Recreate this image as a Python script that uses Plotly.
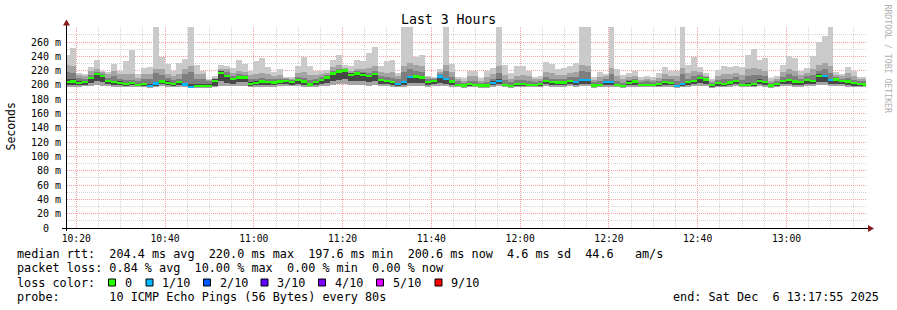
import pandas as pd
import plotly.graph_objects as go

# ---------------- data (ms), one value per 80 s step ----------------
p_max = [242.4, 251.7, 216.8, 215.4, 225.7, 235.0, 220.1, 217.7, 229.4, 220.1, 233.1, 249.0, 215.4, 223.8,
         224.7, 300, 239.6, 229.4, 220.1, 230.3, 236.4, 300, 228.0, 220.1, 208.5, 212.0, 228.0, 227.0,
         223.8, 235.0, 229.4, 220.1, 234.0, 237.8, 225.7, 217.7, 222.4, 211.7, 210.7, 226.6, 239.2, 226.6,
         220.1, 220.1, 221.0, 235.0, 242.0, 228.5, 226.6, 235.4, 234.0, 244.8, 253.6, 227.0, 234.0,
         235.0, 216.3, 300, 300, 239.6, 242.4, 213.1, 211.7, 222.4, 300, 229.4, 210.7, 209.8, 220.1,
         220.1, 209.3, 220.1, 223.8, 300, 228.5, 216.3, 226.6, 226.6, 220.1, 210.7, 213.1, 232.6,
         229.4, 222.4, 223.3, 227.0, 230.3, 300, 300, 210.7, 217.7, 215.4, 300, 221.9, 214.5, 216.3,
         220.1, 210.7, 213.1, 210.7, 216.3, 225.7, 220.1, 220.1, 300, 228.5, 239.6, 225.7, 216.3,
         208.4, 221.0, 226.6, 224.7, 226.6, 224.7, 242.0, 250.4, 235.0, 237.8, 209.8, 213.1, 228.5, 240.6,
         237.3, 220.1, 223.8, 240.6, 259.7, 269.0, 300, 217.7, 215.4, 225.7, 220.1, 210.7, 210.7]

p_upper = [228, 227, 214, 213, 220, 222, 218, 215, 220, 215, 215, 215, 210, 215, 215, 222, 222, 215, 213, 215,
           222, 226, 215, 215, 207, 210, 222, 222,
           216, 220, 218, 214, 215, 216, 215, 212, 214, 210, 209, 216, 218, 214, 214, 215, 217, 225, 228, 224,
           220, 222, 222, 223, 226, 218, 217,
           218, 212, 226, 230, 228, 226, 211, 210, 218, 228, 218, 208, 206, 212, 212, 206, 211, 215, 226, 214,
           209, 213, 214, 212, 208, 209, 218,
           216, 214, 214, 217, 218, 228, 226, 207, 211, 212, 224, 213, 208, 211, 213, 207, 209, 207, 210, 215,
           213, 212, 224, 216, 220, 218, 213,
           206, 213, 215, 215, 217, 214, 222, 224, 222, 220, 206, 209, 218, 222, 220, 214, 217, 222, 228, 230,
           226, 214, 212, 216, 213, 208, 208]

p_mid = [218, 216, 210, 209, 214, 218, 215, 210, 212, 209, 207, 207, 205, 208, 208, 217, 214, 210, 207, 209,
         215, 218, 209, 208, 205, 209, 220, 218,
         212, 215, 214, 208, 209, 210, 209, 208, 209, 208, 207, 211, 210, 207, 209, 211, 214, 220, 222, 222,
         217, 219, 218, 217, 220, 212, 211,
         210, 208, 218, 222, 220, 218, 208, 208.5, 215, 220, 211, 205, 203, 206, 205, 203, 204, 208, 217, 207,
         204, 207, 207, 205, 204, 205, 211,
         209, 208, 208, 211, 211, 220, 218, 204, 205, 208, 215, 206, 203, 207, 209, 204, 205, 204, 206, 209,
         208, 206, 215, 209, 212, 214, 211,
         203, 207, 208, 209, 211, 207, 212, 214, 214, 212, 203, 205, 211, 215, 212, 209, 212, 214, 220, 222,
         216, 211, 209, 210, 207, 205, 205]

p_dark_hi = [209, 209, 206, 205.5, 211, 216.5, 214, 207, 206, 205, 203, 204, 202, 203, 201, 204, 207, 205, 203,
             206, 203, 201, 201, 201, 201, 208.5, 219, 214,
             210, 212, 212, 204, 205, 206.5, 205.5, 205, 206.5, 207, 205.5, 208.5, 206.5, 203, 205.5, 209, 212,
             218, 220.5, 221.5, 216, 218, 216, 214, 217, 208.5, 207.5,
             206, 203, 206, 213, 214, 212, 206, 207.5, 213.5, 210, 207, 202, 201, 203, 202, 201, 201, 205, 208,
             202, 200.5, 203, 203, 202, 202, 203, 207.5,
             205.5, 205, 205, 207.5, 206, 209, 209, 201, 202, 205.5, 206, 202, 200.5, 205, 206.5, 202, 202, 202,
             203, 205.5, 204.5, 200.5, 203, 205.5, 207.5, 211, 209.5,
             201.5, 204, 203, 205, 207.5, 202, 202.5, 203, 208, 206, 201, 203, 207, 209, 206.5, 205.5, 209, 207,
             215, 214, 208.5, 209.5, 207.5, 206.5, 204, 203, 202.5]

median = [204.2, 204.7, 202.8, 203.7, 209.3, 214.9, 212.6, 205.6, 203.7, 202.8, 201.4, 202.8, 200.0, 201.0,
          198.6, 201.9, 204.7, 202.8, 201.0, 203.7, 200.5, 197.6, 198.6, 198.6, 198.6, 205.6, 216.8, 212.1,
          208.4, 210.3, 210.3, 201.0, 202.8, 204.7, 203.7, 203.3, 204.7, 205.6, 203.7, 206.5, 204.7, 200.5,
          203.7, 207.0, 210.3, 215.9, 218.7, 220.0, 214.0, 215.9, 214.0, 212.1, 214.9, 206.5, 205.6,
          203.7, 201.0, 203.7, 211.2, 211.7, 210.3, 203.7, 205.6, 211.7, 207.9, 204.7, 200.0, 199.1, 201.0,
          200.0, 199.1, 199.1, 202.8, 205.6, 200.0, 198.6, 201.0, 201.0, 200.0, 200.0, 201.0, 205.6,
          203.7, 203.3, 203.3, 205.6, 204.2, 206.5, 207.0, 199.1, 200.0, 203.7, 203.7, 200.0, 198.6, 202.8,
          204.7, 200.0, 200.0, 200.0, 201.0, 203.7, 202.8, 198.6, 201.0, 203.7, 205.6, 209.3, 207.5,
          199.6, 202.4, 201.0, 203.3, 205.6, 200.0, 200.0, 201.0, 205.6, 203.7, 199.1, 201.0, 205.1, 207.0,
          204.7, 203.7, 207.0, 205.1, 212.6, 212.1, 206.5, 207.5, 205.6, 204.7, 202.4, 201.0, 200.6]

p_dark_lo = [200, 200.5, 200, 200.5, 203, 206, 204, 202, 200.5, 200, 199, 199.5, 198, 198.5, 197, 199, 201, 200,
             198.5, 200, 198, 197, 197, 197, 197, 198, 206, 203,
             202, 204, 204, 198, 199.5, 200.5, 200.5, 200, 201, 202, 200.5, 201.5, 200.5, 198, 200, 201.5, 203,
             205, 207, 208, 205, 205, 205, 204, 205, 201, 201,
             200, 198.5, 200, 203, 203, 203, 200, 201, 203, 201.5, 200.5, 198, 197.5, 198.5, 198, 197.5, 197.5,
             199.5, 201, 198, 197, 198.5, 198.5, 198, 198, 198.5, 201,
             200, 200, 200, 201, 200.5, 201.5, 201.5, 197.5, 198, 200, 200, 198, 197, 199.5, 200.5, 198, 198, 198,
             198.5, 200, 199.5, 197, 198.5, 200, 201, 203, 202,
             197.5, 199, 198.5, 200, 201, 198, 198, 198.5, 201, 200, 197.5, 198.5, 201, 201.5, 200.5, 200, 201.5,
             201, 204, 204, 201.5, 202, 201, 200.5, 199, 198.5, 198.5]

p_min = [197, 197.5, 197.5, 198, 199, 200, 199, 198, 197.5, 197.5, 197, 197, 196.5, 196.5, 195.5, 197, 198, 197.5,
         196.5, 197, 196.5, 195.5, 196, 196, 196, 196.5, 199, 199,
         198, 199, 199, 196.5, 197, 197.5, 197.5, 197.5, 198, 198.5, 198, 198, 197.5, 196.5, 197.5, 198, 199,
         200, 201, 202, 200, 200, 200, 199, 200, 198, 198,
         197.5, 196.5, 197.5, 199, 199, 199, 197.5, 198, 199, 198, 197.5, 196.5, 196, 196.5, 196.5, 196, 196,
         197, 198, 196.5, 195.5, 196.5, 196.5, 196.5, 196.5, 196.5, 198,
         197.5, 197.5, 197.5, 198, 197.5, 198, 198, 196, 196.5, 197.5, 197.5, 196.5, 195.5, 197, 197.5, 196.5,
         196.5, 196.5, 196.5, 197.5, 197, 195.5, 196.5, 197.5, 198, 199, 198.5,
         196, 197, 196.5, 197.5, 198, 196.5, 196.5, 196.5, 198, 197.5, 196, 196.5, 198, 198, 197.5, 197.5, 198,
         198, 199.5, 199.5, 198, 198.5, 198, 197.5, 197, 196.5, 196.5]

# lost pings (of 10) per step
loss = [0, 0, 0, 0, 0, 0, 0, 0, 0, 0, 0, 0, 0, 0, 1, 1, 0, 0, 0, 0, 1, 1, 0, 0, 0, 0, 0, 0,
        0, 0, 0, 0, 0, 0, 0, 0, 0, 0, 0, 0, 0, 0, 0, 0, 0, 0, 0, 0, 0, 0, 0, 0, 0, 0, 0,
        0, 1, 1, 1, 0, 0, 0, 0, 1, 1, 0, 0, 0, 0, 0, 0, 0, 1, 1, 0, 0, 0, 0, 0, 0, 0, 0,
        0, 0, 0, 0, 1, 1, 1, 0, 0, 1, 1, 0, 0, 0, 0, 0, 0, 0, 0, 0, 0, 1, 1, 0, 0, 0, 0,
        0, 0, 0, 0, 0, 0, 0, 0, 0, 0, 0, 0, 0, 0, 0, 0, 0, 0, 0, 1, 1, 0, 0, 0, 0, 0, 0]

loss_labels = ["0", "1/10", "2/10", "3/10", "4/10", "5/10", "9/10"]
loss_colors = ["#26ff00", "#00b8ff", "#0059ff", "#5e00ff", "#7e00ff", "#dd00ff", "#ff0000"]

y_tick_vals = [0, 20, 40, 60, 80, 100, 120, 140, 160, 180, 200, 220, 240, 260]
y_tick_text = ["0\u00a0\u00a0"] + [f"{v}\u00a0m" for v in y_tick_vals[1:]]

legend_lines = [
    "median rtt:  204.4 ms avg  220.0 ms max  197.6 ms min  200.6 ms now  4.6 ms sd  44.6   am/s",
    "packet loss: 0.84 % avg  10.00 % max  0.00 % min  0.00 % now",
    "loss color:",
    "probe:       10 ICMP Echo Pings (56 Bytes) every 80s",
]
end_text = "end: Sat Dec  6 13:17:55 2025"
title_text = "Last 3 Hours"

# ---------------- geometry ----------------
W, H = 897, 310
PL, PR, PT, PB = 67, 866, 27, 228   # plot area in pixels
STEP_S = 80
t_first = pd.Timestamp("2025-12-06 10:17:15")
t_start = pd.Timestamp("2025-12-06 10:17:55")
t_end = pd.Timestamp("2025-12-06 13:17:55")
Y_MAX = 281.0

n = len(median)
centers = [t_first + pd.Timedelta(seconds=STEP_S * k + STEP_S / 2) for k in range(n)]


def px(x, y):
    return (x - PL) / (PR - PL), (PB - y) / (PB - PT)


MONO = "DejaVu Sans Mono"
fig = go.Figure()


def band(lo, hi, color):
    fig.add_trace(go.Bar(
        x=centers, y=[h - l for l, h in zip(lo, hi)], base=lo, width=STEP_S * 1000,
        marker=dict(color=color, line=dict(width=0)), hoverinfo="skip", showlegend=False))


band(p_min, p_max, "#cacaca")
band(p_min, p_upper, "#a4a4a4")
band(p_dark_lo, p_mid, "#7e7e7e")
band(p_dark_lo, p_dark_hi, "#484848")


def loss_color(l):
    if l >= 9:
        return loss_colors[6]
    if l >= 5:
        return loss_colors[5]
    return loss_colors[l]


MED_H = 3.2
fig.add_trace(go.Bar(
    x=centers, y=[MED_H] * n, base=[m - MED_H / 2 for m in median], width=STEP_S * 1000,
    marker=dict(color=[loss_color(l) for l in loss], line=dict(width=0)),
    hoverinfo="skip", showlegend=False))

fig.update_layout(
    width=W, height=H,
    margin=dict(l=PL, r=W - PR, t=PT, b=H - PB, pad=0),
    paper_bgcolor="white", plot_bgcolor="white",
    barmode="overlay", bargap=0, showlegend=False,
    font=dict(family=MONO, size=10, color="black"),
)

fig.update_xaxes(
    type="date", range=[t_start, t_end], automargin=False,
    tick0="2025-12-06 10:20:00", dtick=20 * 60 * 1000, tickformat="%H:%M",
    tickfont=dict(family=MONO, size=9.7, color="black"), ticks="", ticklabelstandoff=3,
    showgrid=True, gridcolor="#f4a0a0", griddash="1px,1px", gridwidth=1,
    minor=dict(tick0="2025-12-06 10:20:00", dtick=5 * 60 * 1000, showgrid=True,
               gridcolor="#d4d4d4", griddash="1px,1px", gridwidth=1),
    showline=False, zeroline=False, fixedrange=True,
)
fig.update_yaxes(
    range=[0, Y_MAX], automargin=False,
    tickmode="array", tickvals=y_tick_vals, ticktext=y_tick_text,
    tickfont=dict(family=MONO, size=10, color="black"), ticks="", ticklabelstandoff=5,
    showgrid=True, gridcolor="#f4a0a0", griddash="1px,1px", gridwidth=1,
    minor=dict(tickmode="linear", tick0=0, dtick=10, showgrid=True,
               gridcolor="#d4d4d4", griddash="1px,1px", gridwidth=1),
    showline=False, zeroline=False, fixedrange=True,
)

shapes = []
# axes
x0, y0 = px(62, 228.5)
x1, _ = px(868, 228.5)
shapes.append(dict(type="line", xref="paper", yref="paper", x0=x0, y0=y0, x1=x1, y1=y0,
                   line=dict(color="black", width=1)))
xa, ya0 = px(66.5, 231)
_, ya1 = px(66.5, 24)
shapes.append(dict(type="line", xref="paper", yref="paper", x0=xa, y0=ya0, x1=xa, y1=ya1,
                   line=dict(color="black", width=1)))
# arrows
a1 = px(868, 225); a2 = px(874, 228.5); a3 = px(868, 232)
shapes.append(dict(type="path", xref="paper", yref="paper",
                   path=f"M {a1[0]} {a1[1]} L {a2[0]} {a2[1]} L {a3[0]} {a3[1]} Z",
                   fillcolor="#8b1a1a", line=dict(width=0)))
b1 = px(63, 25.5); b2 = px(66.5, 19.5); b3 = px(70, 25.5)
shapes.append(dict(type="path", xref="paper", yref="paper",
                   path=f"M {b1[0]} {b1[1]} L {b2[0]} {b2[1]} L {b3[0]} {b3[1]} Z",
                   fillcolor="#8b1a1a", line=dict(width=0)))

# loss colour boxes
box_x = [108.5, 146, 203.5, 261, 318.5, 376.5, 435]
for bx, col in zip(box_x, loss_colors):
    p0 = px(bx, 286)
    p1 = px(bx + 7, 279)
    shapes.append(dict(type="rect", xref="paper", yref="paper", x0=p0[0], y0=p0[1], x1=p1[0], y1=p1[1],
                       fillcolor=col, line=dict(color="black", width=1)))

annotations = []


def text(x, y, s, size, xanchor="left", color="black", angle=0, family=MONO):
    xp, yp = px(x, y)
    annotations.append(dict(x=xp, y=yp, xref="paper", yref="paper", text=s.replace(" ", "\u00a0"),
                            showarrow=False, xanchor=xanchor, yanchor="middle", borderpad=0,
                            textangle=angle, font=dict(family=family, size=size, color=color)))


text(448, 19.5, title_text, 13.2, xanchor="center")
text(10.5, 126, "Seconds", 11.5, xanchor="center", angle=-90)
text(887.5, 59, "RRDTOOL / TOBI OETIKER", 8.2, xanchor="center", angle=90, color="#b0b0b0")

line_y = [254, 268.3, 282.5, 296.5]
for s, yy in zip(legend_lines, line_y):
    text(16, yy, s, 11.8)
for bx, lab in zip(box_x, loss_labels):
    text(bx + 15, line_y[2], lab, 11.8)
text(880.5, line_y[3], end_text, 11.8, xanchor="right")

fig.update_layout(shapes=shapes, annotations=annotations)
fig.write_html("out.html")
